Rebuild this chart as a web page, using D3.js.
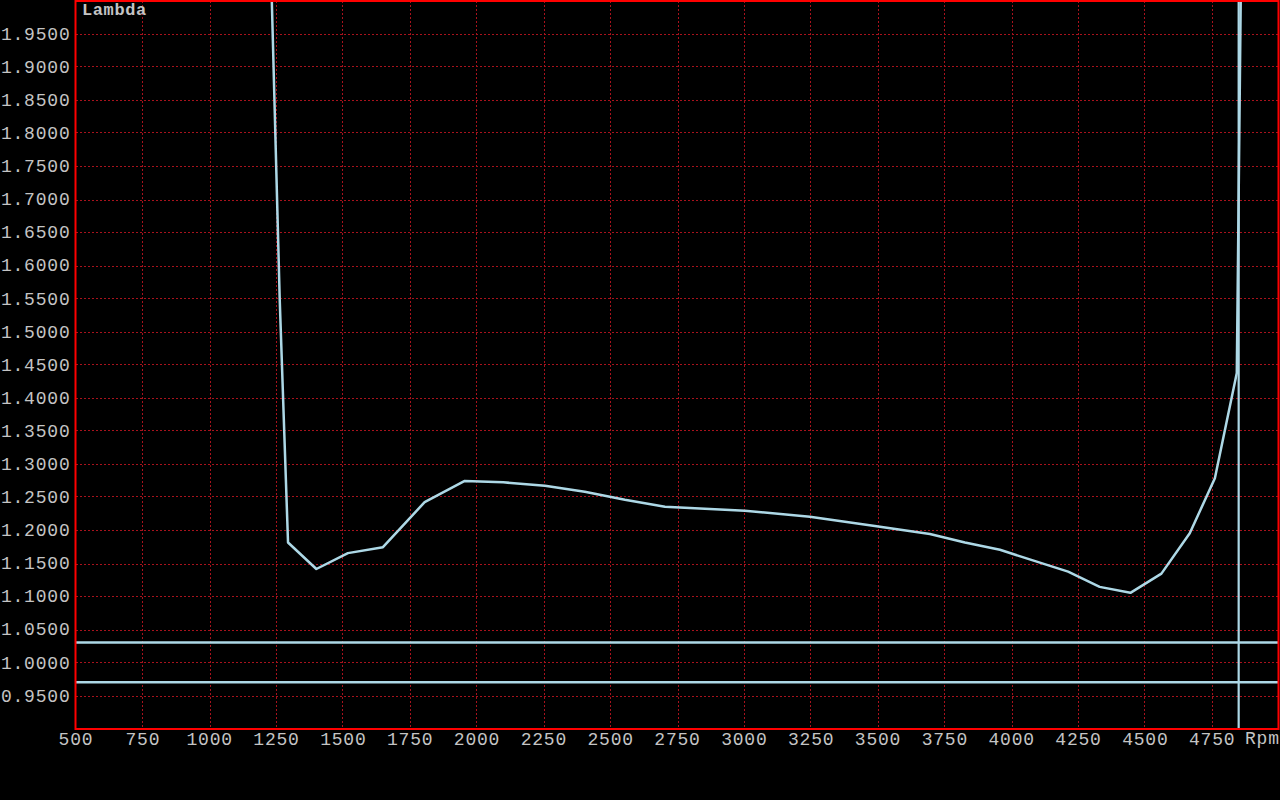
<!DOCTYPE html>
<html>
<head>
<meta charset="utf-8">
<script src="https://cdn.jsdelivr.net/npm/d3@7"></script>
<style>
  html, body { margin: 0; padding: 0; background: #000; }
  svg { display: block; }
  text { font-family: "Liberation Mono", "Courier New", monospace; fill: #c4c4c4; }
</style>
</head>
<body>
<script>
// ---- data ----
const rpm = [1233, 1264, 1295, 1401, 1519, 1650, 1806, 1956, 2100, 2256, 2405, 2555, 2705, 3004, 3247, 3490, 3696, 3827, 3958, 4213, 4331, 4446, 4562, 4668, 4762, 4844, 4860];
const lambda = [2.02, 1.547, 1.181, 1.141, 1.165, 1.174, 1.242, 1.274, 1.272, 1.2667, 1.2576, 1.2455, 1.235, 1.229, 1.220, 1.206, 1.194, 1.181, 1.170, 1.137, 1.114, 1.105, 1.134, 1.195, 1.278, 1.437, 2.05];
const limitLines = [1.03, 0.97];
const cursorRpm = 4851;
const xTicks = [500, 750, 1000, 1250, 1500, 1750, 2000, 2250, 2500, 2750, 3000, 3250, 3500, 3750, 4000, 4250, 4500, 4750];
const yTicks = [0.95, 1.00, 1.05, 1.10, 1.15, 1.20, 1.25, 1.30, 1.35, 1.40, 1.45, 1.50, 1.55, 1.60, 1.65, 1.70, 1.75, 1.80, 1.85, 1.90, 1.95];
const xDomain = [500, 5000];
const yDomain = [0.9, 2.0];
const yTitle = "Lambda";
const xTitle = "Rpm";

// ---- layout ----
const W = 1280, H = 800;
const L = 75.5, R = 1278.5, T = 0.5, B = 728.5;
const FONT = '"Liberation Mono", "Courier New", monospace';
const snap = v => Math.round(v / 2) * 2 + 0.5;

const svg = d3.select("body").append("svg").attr("width", W).attr("height", H);
svg.append("rect").attr("width", W).attr("height", H).attr("fill", "#000");

const x = d3.scaleLinear().domain(xDomain).range([L, R]);
const y = d3.scaleLinear().domain(yDomain).range([B, T]);

svg.append("clipPath").attr("id", "clip")
  .append("rect").attr("x", L).attr("y", T).attr("width", R - L).attr("height", B - T);

// grid
const grid = svg.append("g").attr("stroke", "#a8121c").attr("stroke-width", 1)
  .attr("stroke-dasharray", "2,2").attr("shape-rendering", "crispEdges");
grid.selectAll("line.v").data(xTicks.filter(d => d > xDomain[0])).join("line").attr("class", "v")
  .attr("x1", d => snap(x(d))).attr("x2", d => snap(x(d)))
  .attr("y1", T).attr("y2", B);
grid.selectAll("line.h").data(yTicks).join("line").attr("class", "h")
  .attr("y1", d => snap(y(d))).attr("y2", d => snap(y(d)))
  .attr("x1", L).attr("x2", R);

// data layer
const plot = svg.append("g").attr("clip-path", "url(#clip)");
plot.selectAll("line.lim").data(limitLines).join("line").attr("class", "lim")
  .attr("x1", L).attr("x2", R)
  .attr("y1", d => y(d)).attr("y2", d => y(d))
  .attr("stroke", "#add8e6").attr("stroke-width", 2.5);
plot.append("line")
  .attr("x1", x(cursorRpm)).attr("x2", x(cursorRpm))
  .attr("y1", T).attr("y2", B)
  .attr("stroke", "#add8e6").attr("stroke-width", 2.2);

const pts = rpm.map((r, i) => [r, lambda[i]]);
plot.append("path").datum(pts)
  .attr("fill", "none").attr("stroke", "#add8e6").attr("stroke-width", 2.5)
  .attr("stroke-linejoin", "round")
  .attr("d", d3.line().x(d => x(d[0])).y(d => y(d[1])));

// border
svg.append("rect").attr("x", L).attr("y", T + 0.5).attr("width", R - L).attr("height", B - T)
  .attr("fill", "none").attr("stroke", "#ff0000").attr("stroke-width", 2);

// axes labels
const xAxis = d3.axisBottom(x).tickValues(xTicks).tickSize(0).tickPadding(0).tickFormat(d3.format("d"));
const gx = svg.append("g").attr("transform", `translate(0,${B})`).call(xAxis)
  .attr("font-family", null).attr("font-size", null);
gx.select(".domain").remove();
gx.selectAll("text").attr("dy", null).attr("y", 16)
  .style("font-family", FONT).style("font-size", "18px").style("letter-spacing", "0.8px")
  .style("fill", "#c4c4c4");

const yAxis = d3.axisLeft(y).tickValues(yTicks).tickSize(0).tickPadding(0).tickFormat(d3.format(".4f"));
const gy = svg.append("g").attr("transform", `translate(${L - 5},0)`).call(yAxis)
  .attr("font-family", null).attr("font-size", null);
gy.select(".domain").remove();
gy.selectAll("text").attr("dy", "0.32em")
  .style("font-family", FONT).style("font-size", "18px").style("letter-spacing", "0.8px")
  .style("fill", "#c4c4c4");

svg.append("text").attr("x", 82).attr("y", 15)
  .style("font-family", FONT).style("font-size", "17px").style("letter-spacing", "0.6px").style("font-weight", "bold")
  .text(yTitle);
svg.append("text").attr("x", 1245).attr("y", 744)
  .style("font-family", FONT).style("font-size", "18px").style("letter-spacing", "0.8px")
  .text(xTitle);
</script>
</body>
</html>
